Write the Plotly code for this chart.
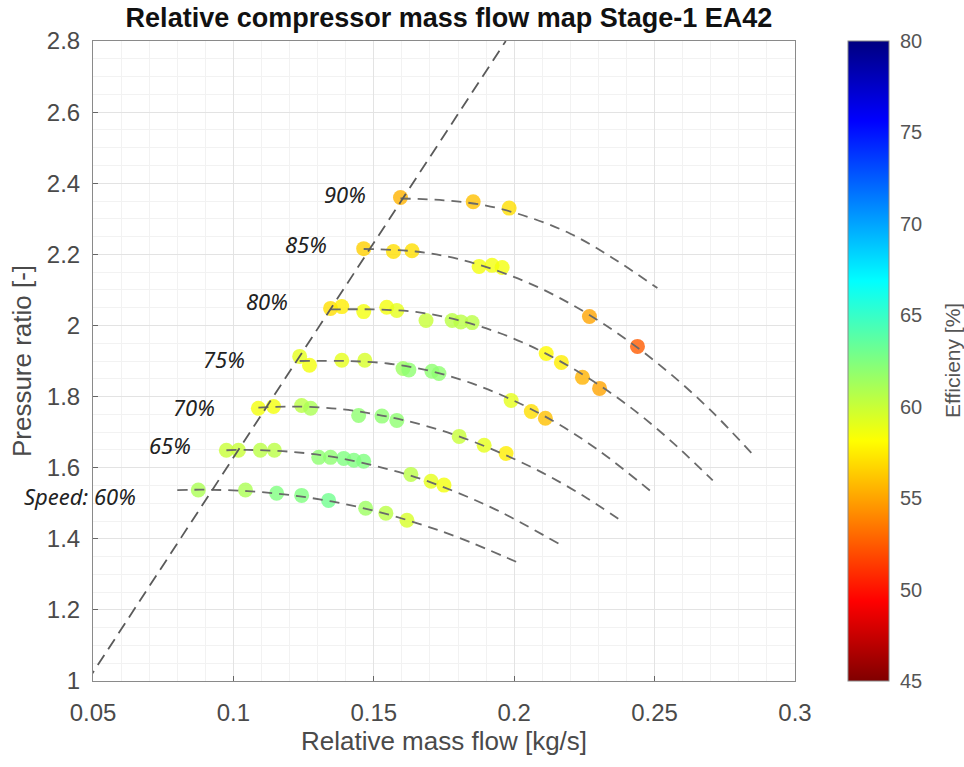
import plotly.graph_objects as go

# ---- data ----
speeds = ["60%", "65%", "70%", "75%", "80%", "85%", "90%"]

x_60 = [0.0875, 0.1043, 0.1154, 0.1243, 0.1339, 0.1471, 0.1543, 0.1618]
pr_60 = [1.537, 1.537, 1.528, 1.522, 1.508, 1.486, 1.472, 1.452]
eff_60 = [61.0, 61.0, 62.5, 62.5, 63.0, 61.5, 60.5, 59.5]

x_65 = [0.0975, 0.1018, 0.1096, 0.1146, 0.1304, 0.1346, 0.1393, 0.1429, 0.1464, 0.1632, 0.1704, 0.1750]
pr_65 = [1.649, 1.649, 1.649, 1.649, 1.629, 1.629, 1.626, 1.621, 1.618, 1.581, 1.562, 1.551]
eff_65 = [60.0, 60.0, 60.5, 60.5, 62.0, 62.0, 62.5, 62.5, 62.5, 60.5, 59.0, 58.5]

x_70 = [0.1089, 0.1143, 0.1243, 0.1275, 0.1446, 0.1529, 0.1582, 0.1804, 0.1893, 0.1971]
pr_70 = [1.767, 1.772, 1.775, 1.767, 1.747, 1.745, 1.733, 1.688, 1.663, 1.640]
eff_70 = [58.5, 58.5, 60.5, 61.0, 62.0, 62.0, 62.0, 60.0, 59.0, 57.5]

x_75 = [0.1236, 0.1271, 0.1386, 0.1468, 0.1604, 0.1625, 0.1707, 0.1732, 0.1989, 0.2061, 0.2111]
pr_75 = [1.913, 1.888, 1.902, 1.902, 1.879, 1.875, 1.871, 1.865, 1.789, 1.758, 1.739]
eff_75 = [59.0, 58.5, 59.0, 59.5, 61.5, 62.0, 62.0, 62.0, 59.0, 57.0, 56.0]

x_80 = [0.1346, 0.1386, 0.1464, 0.1546, 0.1582, 0.1686, 0.1779, 0.1810, 0.1850, 0.2114, 0.2168, 0.2243, 0.2304]
pr_80 = [2.048, 2.053, 2.039, 2.051, 2.042, 2.014, 2.014, 2.010, 2.008, 1.921, 1.896, 1.854, 1.823]
eff_80 = [57.0, 57.5, 58.5, 58.5, 59.0, 60.0, 60.5, 60.5, 60.5, 58.0, 57.5, 55.5, 55.0]

x_85 = [0.1464, 0.1570, 0.1636, 0.1875, 0.1921, 0.1957, 0.2268, 0.2439]
pr_85 = [2.216, 2.208, 2.210, 2.166, 2.169, 2.163, 2.025, 1.941]
eff_85 = [56.5, 57.0, 57.0, 58.5, 58.5, 58.5, 55.0, 52.5]

x_90 = [0.1595, 0.1854, 0.1982]
pr_90 = [2.360, 2.348, 2.330]
eff_90 = [55.5, 56.0, 57.0]

# speed lines
line_x_60 = [0.080, 0.090, 0.105, 0.120, 0.135, 0.150, 0.165, 0.180, 0.2025]
line_y_60 = [1.537, 1.538, 1.534, 1.523, 1.505, 1.479, 1.445, 1.404, 1.329]
line_x_65 = [0.0975, 0.105, 0.120, 0.135, 0.150, 0.165, 0.180, 0.195, 0.2161]
line_y_65 = [1.649, 1.650, 1.645, 1.631, 1.606, 1.573, 1.529, 1.476, 1.385]
line_x_70 = [0.1089, 0.120, 0.135, 0.150, 0.165, 0.180, 0.195, 0.210, 0.225, 0.2379]
line_y_70 = [1.769, 1.772, 1.767, 1.751, 1.725, 1.689, 1.642, 1.586, 1.519, 1.452]
line_x_75 = [0.1236, 0.140, 0.155, 0.170, 0.185, 0.200, 0.215, 0.230, 0.250]
line_y_75 = [1.900, 1.900, 1.893, 1.872, 1.837, 1.788, 1.726, 1.649, 1.525]
line_x_80 = [0.1346, 0.150, 0.165, 0.180, 0.195, 0.210, 0.225, 0.240, 0.255, 0.2707]
line_y_80 = [2.045, 2.045, 2.038, 2.015, 1.978, 1.926, 1.859, 1.778, 1.681, 1.564]
line_x_85 = [0.1464, 0.165, 0.180, 0.195, 0.210, 0.225, 0.240, 0.255, 0.270, 0.2846]
line_y_85 = [2.215, 2.208, 2.187, 2.151, 2.102, 2.038, 1.960, 1.868, 1.761, 1.640]
line_x_90 = [0.1595, 0.175, 0.190, 0.205, 0.220, 0.235, 0.251]
line_y_90 = [2.357, 2.352, 2.337, 2.305, 2.258, 2.190, 2.105]

surge_x = [0.048, 0.197]
surge_y = [1.0, 2.8]

label_text = ["Speed: 60%", "65%", "70%", "75%", "80%", "85%", "90%"]
label_x = [0.0661, 0.0775, 0.0861, 0.0968, 0.1118, 0.1257, 0.1396]
label_y = [1.521, 1.663, 1.772, 1.907, 2.070, 2.230, 2.371]
label_anchor = ["right", "center", "center", "center", "center", "center", "center"]

x_ticks = [0.05, 0.1, 0.15, 0.2, 0.25, 0.3]
y_ticks = [1, 1.2, 1.4, 1.6, 1.8, 2, 2.2, 2.4, 2.6, 2.8]
cb_ticks = [45, 50, 55, 60, 65, 70, 75, 80]

# ---- figure ----
all_x = x_60 + x_65 + x_70 + x_75 + x_80 + x_85 + x_90
all_y = pr_60 + pr_65 + pr_70 + pr_75 + pr_80 + pr_85 + pr_90
all_e = eff_60 + eff_65 + eff_70 + eff_75 + eff_80 + eff_85 + eff_90

jet_rev = [
    [0.0, "rgb(128,0,0)"],
    [0.125, "rgb(255,0,0)"],
    [0.375, "rgb(255,255,0)"],
    [0.625, "rgb(0,255,255)"],
    [0.875, "rgb(0,0,255)"],
    [1.0, "rgb(0,0,128)"],
]

L, R, T, B = 93, 169, 41, 86
W, H = 964, 767
plot_w = W - L - R

fig = go.Figure()

fig.add_trace(go.Scatter(
    x=all_x, y=all_y, mode="markers",
    marker=dict(
        size=15, color=all_e, cmin=45, cmax=80, colorscale=jet_rev,
        opacity=0.8, line=dict(width=0),
        colorbar=dict(
            x=(848 - L) / plot_w, xanchor="left", xref="paper", xpad=0,
            y=0.5, yanchor="middle", len=1.0, lenmode="fraction", ypad=0,
            thickness=41, outlinewidth=1, outlinecolor="#888",
            tickvals=cb_ticks, ticks="outside", ticklen=7, tickcolor="rgba(0,0,0,0)",
            tickfont=dict(family="Liberation Sans", size=20, color="#555"),
        ),
    ),
    showlegend=False, hoverinfo="x+y",
))

line_sets = [
    (line_x_60, line_y_60), (line_x_65, line_y_65), (line_x_70, line_y_70),
    (line_x_75, line_y_75), (line_x_80, line_y_80), (line_x_85, line_y_85),
    (line_x_90, line_y_90),
]
for lx, ly in line_sets:
    fig.add_trace(go.Scatter(
        x=lx, y=ly, mode="lines",
        line=dict(color="#6a6a6a", width=1.8, dash="10px,7px", shape="spline", smoothing=1.0),
        showlegend=False, hoverinfo="skip",
    ))

fig.add_trace(go.Scatter(
    x=surge_x, y=surge_y, mode="lines",
    line=dict(color="#5a5a5a", width=1.8, dash="12px,7px"),
    showlegend=False, hoverinfo="skip",
))

for t, lx, ly, anc in zip(label_text, label_x, label_y, label_anchor):
    fig.add_annotation(
        x=lx, y=ly, text=t, showarrow=False, xanchor=anc, yanchor="middle",
        font=dict(family="Noto Sans", size=22, color="#222", style="italic"),
    )

# colorbar title
fig.add_annotation(
    x=(952 - L) / plot_w, y=0.5, xref="paper", yref="paper",
    text="Efficieny [%]", textangle=-90, showarrow=False,
    xanchor="center", yanchor="middle",
    font=dict(family="Liberation Sans", size=21, color="#555"),
)

axis_font = dict(family="Liberation Sans", size=24, color="#4a4a4a")
title_font = dict(family="Liberation Sans", size=26, color="#4a4a4a")
fig.update_xaxes(
    range=[0.05, 0.3], tickvals=x_ticks, ticktext=[str(v) for v in x_ticks],
    showgrid=True, gridcolor="#e3e3e3", gridwidth=1,
    minor=dict(dtick=0.01, showgrid=True, gridcolor="#f2f2f2", ticks=""),
    showline=True, linecolor="#8a8a8a", linewidth=1, mirror=True,
    ticks="inside", ticklen=5, tickcolor="#666",
    tickfont=axis_font, ticklabelstandoff=10, zeroline=False,
    title=dict(text="Relative mass flow [kg/s]", standoff=6, font=title_font),
)
fig.update_yaxes(
    range=[1, 2.8], tickvals=y_ticks, ticktext=[str(v) for v in y_ticks],
    showgrid=True, gridcolor="#e3e3e3", gridwidth=1,
    minor=dict(dtick=0.05, showgrid=True, gridcolor="#f2f2f2", ticks=""),
    showline=True, linecolor="#8a8a8a", linewidth=1, mirror=True,
    ticks="inside", ticklen=5, tickcolor="#666",
    tickfont=axis_font, ticklabelstandoff=7, zeroline=False,
    title=dict(text="Pressure ratio [-]", standoff=7, font=title_font),
)

fig.update_layout(
    width=W, height=H,
    margin=dict(l=L, r=R, t=T, b=B),
    paper_bgcolor="white", plot_bgcolor="white",
    title=dict(text="<b>Relative compressor mass flow map Stage-1 EA42</b>",
               x=449 / W, xanchor="center", y=1 - 18 / H, yanchor="middle",
               font=dict(family="Liberation Sans", size=27, color="#111")),
)

fig.write_html("out.html")
